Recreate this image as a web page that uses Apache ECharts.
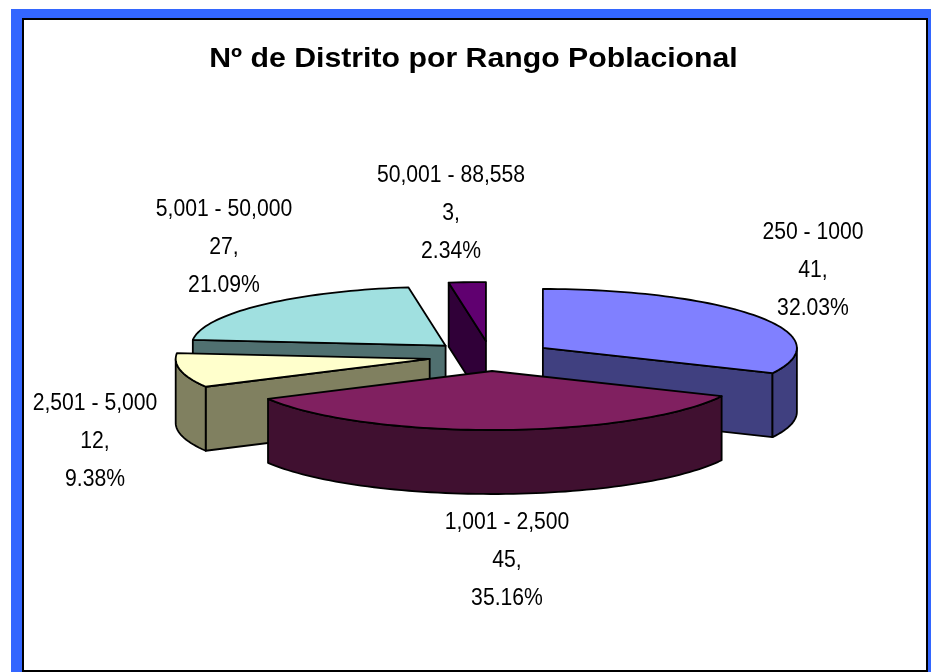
<!DOCTYPE html>
<html>
<head>
<meta charset="utf-8">
<style>html,body{margin:0;padding:0;background:#fff}#chart{width:931px;height:672px}</style>
<script src="https://cdn.jsdelivr.net/npm/echarts@6/dist/echarts.min.js"></script>
</head>
<body>
<div id="chart"></div>
<script>
const titleText = 'Nº de Distrito por Rango Poblacional';
const categories = ['250 - 1000', '1,001 - 2,500', '2,501 - 5,000', '5,001 - 50,000', '50,001 - 88,558'];
const values = [41, 45, 12, 27, 3];

const topColors = ['#8080FF', '#802060', '#FFFFCC', '#A0E0E0', '#600070'];
const sideColors = ['#404080', '#401030', '#808060', '#507070', '#300038'];
const paintOrder = [3, 4, 2, 1, 0];
const labelCentres = [[813, 271], [507, 561], [95, 442], [224, 248], [451, 214]];

const pie = { cx: 490.5, cy: 356, rx: 254, ry: 59, depth: 64, explodeX: 62, explodeY: 15 };
const total = values.reduce((a, b) => a + b, 0);

function pt(c, t, dy) {
  return [c[0] + pie.rx * Math.sin(t), c[1] - pie.ry * Math.cos(t) + (dy || 0)];
}
function arc(c, a, b, dy) {
  const n = Math.max(2, Math.ceil((b - a) / 0.03));
  const out = [];
  for (let i = 0; i <= n; i++) out.push(pt(c, a + (b - a) * i / n, dy));
  return out;
}

function renderSlice(params, api) {
  const i = params.dataIndex;
  const v = api.value(0);
  let before = 0;
  for (let k = 0; k < i; k++) before += values[k];
  const a = before / total * 2 * Math.PI;
  const b = (before + v) / total * 2 * Math.PI;
  const m = (a + b) / 2;
  const c = [pie.cx + pie.explodeX * Math.sin(m), pie.cy - pie.explodeY * Math.cos(m)];
  const base = paintOrder[i] * 10;
  const side = { fill: sideColors[i], stroke: '#000', lineWidth: 1.8, lineJoin: 'round' };
  const children = [];
  const radialFace = (t, k) => {
    const e = pt(c, t);
    return { type: 'polygon', z2: base + k, shape: { points: [c, e, [e[0], e[1] + pie.depth], [c[0], c[1] + pie.depth]] }, style: side };
  };
  if (Math.sin(a) < -1e-6) children.push(radialFace(a, 1));
  if (Math.sin(b) > 1e-6) children.push(radialFace(b, 1));
  const ra = Math.max(a, Math.PI / 2), rb = Math.min(b, 1.5 * Math.PI);
  if (rb > ra) {
    const upper = arc(c, ra, rb, 0);
    const lower = arc(c, ra, rb, pie.depth).reverse();
    children.push({ type: 'polygon', z2: base + 2, shape: { points: upper.concat(lower) }, style: side });
  }
  children.push({
    type: 'polygon', z2: base + 3,
    shape: { points: [c].concat(arc(c, a, b, 0)) },
    style: { fill: topColors[i], stroke: '#000', lineWidth: 1.8, lineJoin: 'round' }
  });
  const pct = (v / total * 100).toFixed(2) + '%';
  children.push({
    type: 'text', z2: 200,
    x: labelCentres[i][0], y: labelCentres[i][1], scaleX: 0.92,
    style: {
      text: categories[i] + '\n' + v + ',\n' + pct,
      fill: '#000', font: '23px "Liberation Sans", Arial, sans-serif',
      lineHeight: 38, align: 'center', verticalAlign: 'middle'
    }
  });
  return { type: 'group', children };
}

const chart = echarts.init(document.getElementById('chart'), null, { renderer: 'canvas' });
chart.setOption({
  animation: false,
  backgroundColor: '#fff',
  graphic: [
    { type: 'rect', z: -10, shape: { x: 11, y: 9, width: 920, height: 663 }, style: { fill: '#3366FF' } },
    { type: 'rect', z: -9, shape: { x: 23, y: 19, width: 904, height: 652 }, style: { fill: '#fff', stroke: '#000', lineWidth: 2 } },
    { type: 'text', z: 10, x: 473.5, y: 60, scaleX: 1.12,
      style: { text: titleText, fill: '#000', font: 'bold 27px "Liberation Sans", Arial, sans-serif', align: 'center', verticalAlign: 'middle' } }
  ],
  series: [{
    type: 'custom', coordinateSystem: 'none', renderItem: renderSlice,
    data: values.map(v => [v]), silent: true
  }]
});
</script>
</body>
</html>
